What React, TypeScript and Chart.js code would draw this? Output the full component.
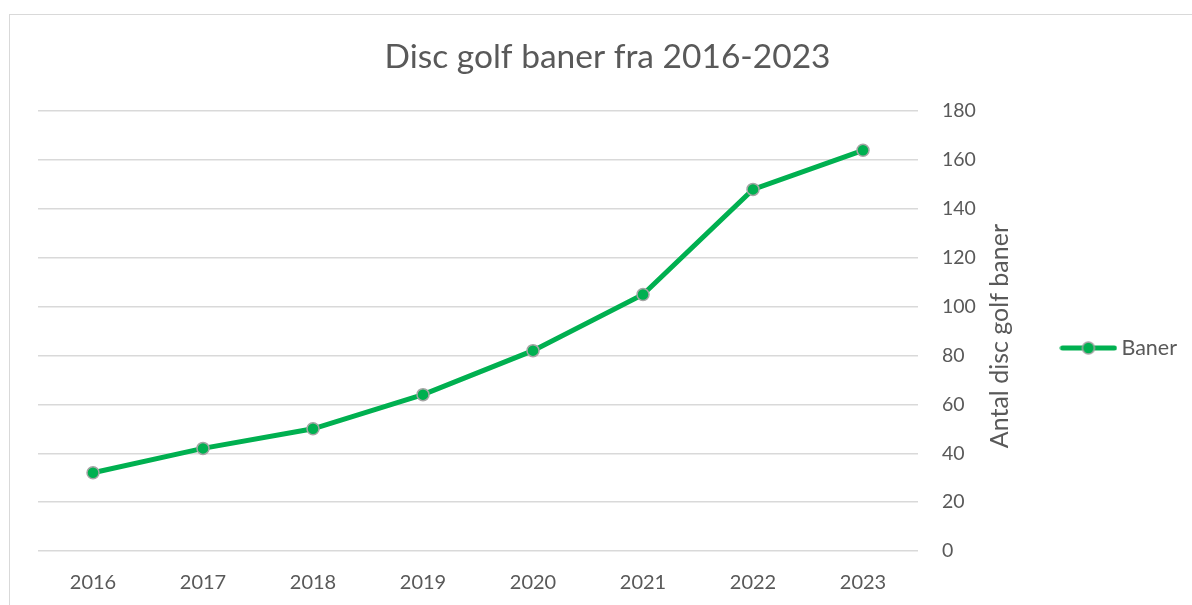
import React, { useEffect, useRef } from 'react';
import { Chart, registerables } from 'chart.js';

Chart.register(...registerables);

// ---- data ----
const years: string[] = ['2016', '2017', '2018', '2019', '2020', '2021', '2022', '2023'];
const baner: number[] = [32, 42, 50, 64, 82, 105, 148, 164];
const seriesLabel = 'Baner';
const chartTitle = 'Disc golf baner fra 2016-2023';
const yAxisTitle = 'Antal disc golf baner';
const yMin = 0;
const yMax = 180;
const yStep = 20;

// ---- style ----
const GREEN = '#00b050';
const MARKER_BORDER = '#a5a5a5';
const TEXT = '#595959';
const GRID = '#d9d9d9';
const FONT = 'Lato';

const PAD_LEFT = 38;
const PAD_RIGHT = 15;
const PLOT_RIGHT = 918;
const PLOT_BOTTOM = 551;

function makeLegendSwatch(): HTMLCanvasElement {
  const c = document.createElement('canvas');
  c.width = 58;
  c.height = 16;
  const ctx = c.getContext('2d')!;
  ctx.strokeStyle = GREEN;
  ctx.lineWidth = 5;
  ctx.lineCap = 'round';
  ctx.beginPath();
  ctx.moveTo(3, 8);
  ctx.lineTo(55, 8);
  ctx.stroke();
  ctx.beginPath();
  ctx.arc(29, 8, 6, 0, Math.PI * 2);
  ctx.fillStyle = GREEN;
  ctx.fill();
  ctx.lineWidth = 1.5;
  ctx.strokeStyle = MARKER_BORDER;
  ctx.stroke();
  return c;
}

const yTitlePlugin = {
  id: 'yTitleUpward',
  afterDraw(chart: any) {
    const { ctx, chartArea } = chart;
    ctx.save();
    ctx.font = `25px ${FONT}`;
    ctx.fillStyle = TEXT;
    ctx.textAlign = 'center';
    ctx.textBaseline = 'middle';
    ctx.translate(chartArea.right + 82, (chartArea.top + chartArea.bottom) / 2 + 5);
    ctx.rotate(-Math.PI / 2);
    ctx.fillText(yAxisTitle, 0, 0);
    ctx.restore();
  },
};

export default function App() {
  const ref = useRef<HTMLCanvasElement | null>(null);

  useEffect(() => {
    if (!ref.current) return;
    const swatch = makeLegendSwatch();
    const chart = new Chart(ref.current, {
      type: 'line',
      data: {
        labels: years,
        datasets: [
          {
            label: seriesLabel,
            data: baner,
            borderColor: GREEN,
            backgroundColor: GREEN,
            borderWidth: 5,
            tension: 0,
            pointRadius: 6,
            pointHoverRadius: 6,
            pointBackgroundColor: GREEN,
            pointBorderColor: MARKER_BORDER,
            pointBorderWidth: 1.5,
          },
        ],
      },
      options: {
        animation: false,
        responsive: true,
        maintainAspectRatio: false,
        layout: {
          padding: { left: PAD_LEFT, right: PAD_RIGHT, top: 0, bottom: 0 },
        },
        font: { family: FONT },
        plugins: {
          title: {
            display: true,
            text: chartTitle,
            color: TEXT,
            font: { family: FONT, size: 33.5, weight: 'normal' },
            padding: { top: 37, bottom: 34 },
          },
          legend: {
            display: true,
            position: 'right',
            title: {
              display: true,
              text: '',
              font: { family: FONT, size: 10 },
              padding: { top: 0, bottom: 79 },
            },
            labels: {
              color: TEXT,
              font: { family: FONT, size: 21.5 },
              usePointStyle: true,
              pointStyleWidth: 24.5,
              padding: 20,
              textAlign: 'right',
              generateLabels: (c: any) => {
                const items = Chart.defaults.plugins.legend.labels.generateLabels(c);
                return items.map((it: any) => ({ ...it, pointStyle: swatch, textAlign: 'right' }));
              },
            },
          },
          tooltip: { enabled: false },
        },
        scales: {
          x: {
            type: 'category',
            offset: true,
            grid: { display: false, drawTicks: false },
            border: { display: false },
            ticks: {
              color: TEXT,
              font: { family: FONT, size: 20 },
              padding: 20,
              maxRotation: 0,
            },
            afterFit: (scale: any) => {
              scale.height = scale.chart.height - PLOT_BOTTOM;
            },
          },
          y: {
            position: 'right',
            min: yMin,
            max: yMax,
            grid: { color: GRID, lineWidth: 1.5, drawTicks: false },
            border: { display: false },
            ticks: {
              stepSize: yStep,
              color: TEXT,
              font: { family: FONT, size: 19.5 },
              padding: 24,
            },
            afterFit: (scale: any) => {
              const lw = scale.chart.legend ? scale.chart.legend.width : 140;
              const w = scale.chart.width - PAD_RIGHT - lw - PLOT_RIGHT;
              if (w > 0) scale.width = w;
            },
          },
        },
      },
      plugins: [yTitlePlugin],
    } as any);
    return () => chart.destroy();
  }, []);

  return (
    <div
      style={{
        position: 'fixed',
        left: 0,
        top: 0,
        width: 1192,
        height: 605,
        overflow: 'hidden',
        background: '#ffffff',
      }}
    >
      <div
        style={{
          position: 'absolute',
          left: 9,
          top: 14,
          width: 1400,
          height: 800,
          border: `1.5px solid ${GRID}`,
          boxSizing: 'border-box',
        }}
      />
      <div style={{ position: 'absolute', left: 0, top: 0, width: 1192, height: 605 }}>
        <canvas ref={ref} />
      </div>
    </div>
  );
}
